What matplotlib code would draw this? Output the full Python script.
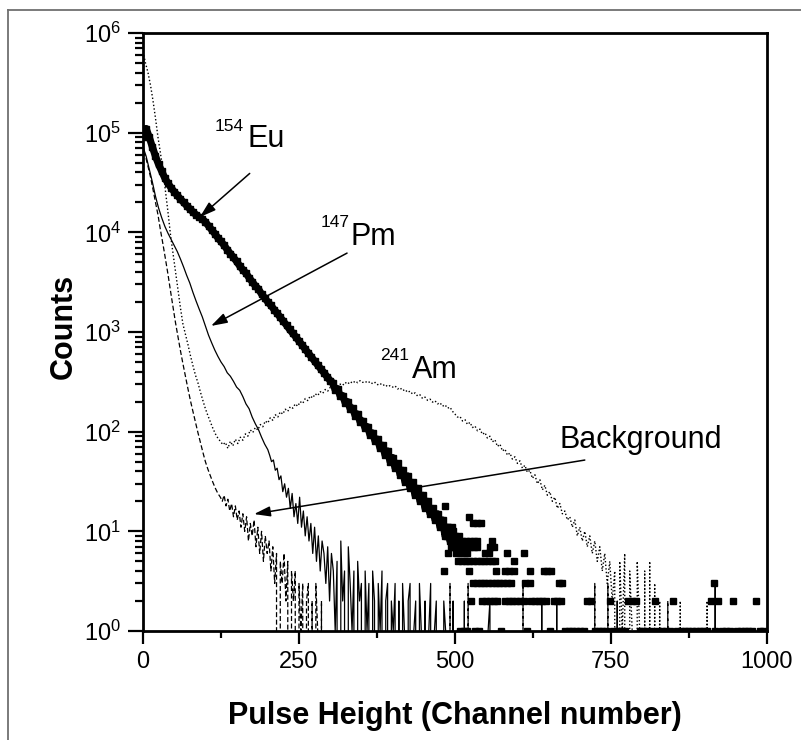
import numpy as np
import matplotlib
matplotlib.use("Agg")
import matplotlib.pyplot as plt
from matplotlib.lines import Line2D
from matplotlib.ticker import LogLocator, MultipleLocator, NullFormatter

plt.rcParams['font.family'] = ['Liberation Sans', 'DejaVu Sans']
plt.rcParams['mathtext.fontset'] = 'custom'
plt.rcParams['mathtext.rm'] = 'Liberation Sans'
plt.rcParams['mathtext.it'] = 'Liberation Sans:italic'
plt.rcParams['mathtext.bf'] = 'Liberation Sans:bold'

# ---- 154Eu (thick line of squares) ----
eu_ch = np.concatenate([np.arange(0, 301, 5), np.arange(304, 505, 4)])
eu_counts = [
    9.0e4, 1.1e5, 9.0e4, 7.2e4, 5.8e4, 4.8e4, 4.1e4, 3.5e4, 3.1e4, 2.8e4,
    2.55e4, 2.35e4, 2.15e4, 2.0e4, 1.85e4, 1.72e4, 1.6e4, 1.5e4, 1.42e4,
    1.36e4, 1.27e4, 1.16e4, 1.06e4, 9.7e3, 8.8e3, 8.1e3, 7.4e3, 6.7e3, 6.1e3,
    5.6e3, 5.1e3, 4.6e3, 4.2e3, 3.9e3, 3.5e3, 3.2e3, 2.9e3, 2.7e3, 2.4e3,
    2.2e3, 2.0e3, 1.85e3, 1.68e3, 1.54e3, 1.40e3, 1.28e3, 1.17e3, 1.06e3, 970,
    890, 810, 740, 670, 615, 560, 510, 465, 425, 390, 355, 325,
    310, 262, 270, 228, 230, 195, 200, 170, 172, 145,
    150, 125, 128, 108, 112, 92, 97, 80, 84, 68,
    73, 58, 64, 50, 55, 43, 48, 37, 41, 31,
    36, 27, 31, 23, 27, 20, 23, 17, 20, 15,
    17, 13, 15, 11, 13, 9, 11, 8, 10, 7, 8,
]
eu_tail_ch = np.arange(508, 1000, 6)
eu_tail_counts = [
    1, 1, 1, 2, 1, 1, 2, 2, 2, 2,
    2, 1, 2, 2, 2, 2, 2, 2, 1, 2,
    2, 2, 2, 2, 1, 2, 2, 2, 1, 1,
    1, 1, 1, 1, 2, 2, 1, 1, 1, 1,
    2, 1, 1, 1, 1, 2, 2, 2, 1, 1,
    1, 1, 2, 1, 1, 1, 1, 2, 1, 1,
    1, 1, 1, 1, 1, 1, 1, 2, 1, 2,
    1, 1, 1, 2, 1, 1, 1, 1, 1, 2,
    1, 1,
]
eu_extra_ch = [
    529, 535, 541, 547, 553, 559, 565, 571, 577, 583, 589, 612, 620, 666, 672, 915,
    483, 523, 565, 580, 587, 594, 620, 642, 648, 654,
    505, 511, 517, 523, 529, 535, 541, 547, 553, 559, 564, 595,
    488, 502, 508, 515, 520, 548, 554, 584, 610,
    494, 500, 506, 512, 518, 524, 530, 535, 556, 562,
    494, 500, 506, 512, 518, 524, 530, 536, 559,
    487, 493, 500, 507,
    487, 495, 529, 535, 542, 522, 484,
]
eu_extra_counts = [
    3, 3, 3, 3, 3, 3, 3, 3, 3, 3, 3, 3, 3, 3, 3, 3,
    4, 4, 4, 4, 4, 4, 4, 4, 4, 4,
    5, 5, 5, 5, 5, 5, 5, 5, 5, 5, 5, 5,
    6, 6, 6, 6, 6, 6, 6, 6, 6,
    7, 7, 7, 7, 7, 7, 7, 7, 7, 7,
    8, 8, 8, 8, 8, 8, 8, 8, 8,
    9, 9, 9, 9,
    11, 11, 12, 12, 12, 14, 18,
]

# ---- 147Pm (thin solid line) ----
pm_ch = np.concatenate([
    np.arange(0, 201, 5), np.arange(203, 522, 3),
    [550, 553, 556, 559, 636, 639, 642, 660, 663, 666, 757, 760, 763, 914, 917, 920, 1000],
])
pm_counts = [
    7.2e4, 5.8e4, 4.3e4, 3.2e4, 2.3e4, 1.75e4, 1.4e4, 1.15e4, 9.8e3, 8.5e3,
    7.4e3, 6.4e3, 5.4e3, 4.5e3, 3.7e3, 3.1e3, 2.5e3, 2.05e3, 1.7e3, 1.42e3,
    1.15e3, 930, 780, 660, 570, 500, 450, 390, 360, 320,
    280, 260, 225, 190, 170, 140, 120, 105, 88, 75, 66,
    58, 50, 52, 41, 43, 33, 36, 25, 30, 22,
    27, 17, 24, 14, 19, 12, 22, 11, 16, 9,
    14, 8, 12, 6, 11, 5, 9, 4, 8, 6,
    3, 7, 2, 6, 4, 1, 5, 0, 8, 2,
    4, 0, 7, 3, 1, 4, 0, 5, 2, 3,
    0, 4, 1, 3, 0, 4, 2, 0, 3, 1,
    4, 0, 2, 3, 0, 2, 1, 3, 0, 2,
    0, 3, 1, 0, 2, 3, 0, 1, 2, 0,
    3, 1, 0, 2, 0, 1, 3, 0, 1, 2,
    0, 1, 0, 2, 1, 0, 1, 0, 2, 0,
    1, 0, 1, 0, 2, 0, 0,
    0, 1, 2, 0, 0, 2, 0, 0, 2, 0, 0, 2, 0, 0, 3, 0, 0,
]

# ---- 241Am (dotted line) ----
am_ch = np.concatenate([
    np.arange(0, 129, 4), np.arange(132, 757, 4),
    [760, 764, 768, 772, 776, 780, 784, 788, 792, 796, 800, 804, 808,
     812, 816, 820, 824, 828, 832, 858, 861, 864, 900, 904, 908, 1000],
])
am_counts = [
    6.5e5, 5.0e5, 4.0e5, 3.0e5, 2.1e5, 1.4e5, 9.0e4, 6.2e4, 4.2e4, 2.6e4,
    1.6e4, 9.5e3, 6.2e3, 4.0e3, 2.6e3, 1.75e3, 1.2e3, 950, 750, 580,
    460, 370, 310, 250, 205, 170, 145, 125, 108, 95,
    86, 80, 74,
    78, 68, 80, 72, 84, 76, 88, 82, 95, 90,
    104, 98, 110, 104, 118, 112, 128, 122, 138, 130,
    148, 140, 158, 150, 168, 160, 178, 172, 190, 180,
    200, 192, 215, 205, 228, 218, 240, 230, 252, 242,
    265, 255, 278, 268, 290, 280, 300, 292, 312, 300,
    318, 306, 322, 310, 325, 312, 320, 308, 318, 302,
    312, 296, 305, 290, 298, 282, 290, 280, 288, 268,
    276, 258, 265, 248, 255, 238, 245, 228, 234, 215,
    222, 206, 212, 198, 204, 190, 195, 180, 186, 172,
    176, 160, 150, 140, 142, 128, 132, 118, 124, 110,
    114, 102, 106, 94, 98, 86, 90, 79, 83, 71,
    75, 64, 67, 58, 61, 53, 56, 48, 51, 43,
    46, 39, 41, 34, 37, 30, 33, 26, 29, 23,
    25, 20, 22, 17, 19, 15, 16, 13, 14, 11,
    13, 9, 11, 8, 10, 7, 9, 6, 8, 5,
    7, 4, 6, 3, 5, 2, 4,
    0, 5, 1, 6, 0, 4, 1, 0, 5, 1, 0, 4, 0,
    5, 0, 3, 0, 2, 0, 0, 2, 0, 0, 2, 0, 0,
]

# ---- Background (dashed line) ----
bg_ch = np.concatenate([
    np.arange(0, 125, 4), np.arange(127, 296, 3),
    [489, 492, 495, 518, 521, 524, 606, 609, 612, 721, 724, 727,
     742, 745, 748, 838, 841, 844, 1000],
])
bg_counts = [
    6.5e4, 5.8e4, 4.6e4, 3.6e4, 2.7e4, 2.0e4, 1.5e4, 1.05e4, 7.6e3, 5.4e3,
    3.8e3, 2.6e3, 1.8e3, 1.25e3, 900, 650, 480, 360, 270, 205,
    160, 125, 98, 78, 62, 50, 42, 36, 31, 27,
    24, 22,
    20, 23, 18, 21, 16, 19, 14, 18, 13, 16,
    11, 15, 10, 14, 8, 12, 9, 13, 7, 11,
    6, 10, 5, 9, 6, 8, 4, 7, 3, 6,
    0, 5, 3, 6, 2, 5, 0, 4, 2, 4,
    0, 3, 1, 3, 0, 2, 3, 0, 2, 0,
    3, 1, 0, 2, 0, 1, 0,
    0, 3, 0, 0, 3, 0, 0, 3, 0, 0, 3, 0, 0, 3, 0, 0, 2, 0, 0,
]

fig = plt.figure(figsize=(8.01, 7.40), dpi=100)
ax = fig.add_axes([143 / 801, 1 - 631 / 740, 624 / 801, 598 / 740])

ax.plot(bg_ch, bg_counts, color='black', lw=0.9, ls=(0, (4, 2)))
ax.plot(am_ch, am_counts, color='black', lw=1.0, ls=(0, (1, 1.6)))
ax.plot(pm_ch, pm_counts, color='black', lw=0.9)
ax.plot(eu_ch, eu_counts, color='black', lw=5.2, marker='s', ms=4.2,
        solid_joinstyle='round', solid_capstyle='round')
ax.plot(eu_tail_ch, eu_tail_counts, ls='none', color='black', marker='s', ms=4)
ax.plot(eu_extra_ch, eu_extra_counts, ls='none', color='black', marker='s', ms=4)

ax.set_yscale('log')
ax.set_xlim(0, 1000)
ax.set_ylim(1, 1e6)
ax.xaxis.set_major_locator(MultipleLocator(250))
ax.xaxis.set_minor_locator(MultipleLocator(125))
ax.yaxis.set_major_locator(LogLocator(base=10, numticks=10))
ax.yaxis.set_minor_locator(LogLocator(base=10, subs=np.arange(2, 10), numticks=10))
ax.yaxis.set_minor_formatter(NullFormatter())

for sp in ax.spines.values():
    sp.set_linewidth(2.0)
ax.tick_params(which='both', direction='out', top=False, right=False, width=1.6)
ax.tick_params(axis='y', which='major', length=11, pad=5, labelsize=17)
ax.tick_params(axis='y', which='minor', length=6)
ax.tick_params(axis='x', which='major', length=9.5, pad=5, labelsize=17)
ax.tick_params(axis='x', which='minor', length=5)

ax.set_xlabel('Pulse Height (Channel number)', fontsize=22, fontweight='bold')
ax.set_ylabel('Counts', fontsize=22, fontweight='bold')
ax.xaxis.set_label_coords(0.5, -0.117)
ax.xaxis.label.set_va('top')
ax.yaxis.set_label_coords(-0.103, 0.51)

# isotope labels with small superscript mass numbers
ax.text(115, 1.035e5, '154', fontsize=12.5, va='baseline')
ax.text(167, 7.16e4, 'Eu', fontsize=22, va='baseline')
ax.text(284, 1.127e4, '147', fontsize=12.5, va='baseline')
ax.text(332, 7.44e3, 'Pm', fontsize=22, va='baseline')
ax.text(380, 523, '241', fontsize=12.5, va='baseline')
ax.text(431, 345, 'Am', fontsize=22, va='baseline')
ax.text(668, 68.4, 'Background', fontsize=22, va='baseline')

arrow = dict(arrowstyle='-|>,head_length=0.7,head_width=0.22', color='black',
             lw=1.1, shrinkA=0, shrinkB=0, mutation_scale=14)
ax.annotate('', xy=(91, 1.42e4), xytext=(171, 3.9e4), arrowprops=arrow)
ax.annotate('', xy=(109, 1.15e3), xytext=(327, 6.19e3), arrowprops=arrow)
ax.annotate('', xy=(178, 14.9), xytext=(708, 51.9), arrowprops=arrow)

# page frame around the figure
frame = dict(transform=fig.transFigure, color='#707070', lw=1.3)
fig.add_artist(Line2D([8 / 801, 8 / 801], [0, 1 - 10 / 740], **frame))
fig.add_artist(Line2D([8 / 801, 1], [1 - 10 / 740, 1 - 10 / 740], **frame))

fig.savefig('out.png', dpi=100)
